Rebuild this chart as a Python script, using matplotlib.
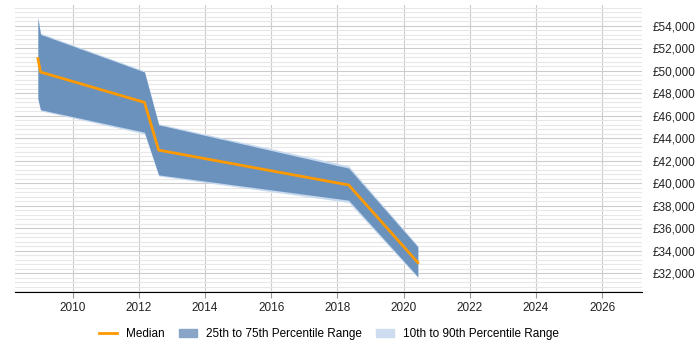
import matplotlib.pyplot as plt
from matplotlib.ticker import MultipleLocator, FuncFormatter
from matplotlib.patches import Patch
from matplotlib.lines import Line2D

plt.rcParams['font.family'] = ['Liberation Sans', 'DejaVu Sans']

# data
years = [2008.95, 2009.03, 2012.17, 2012.6, 2018.34, 2020.43]
median = [51100, 49900, 47200, 42950, 39850, 32950]
p25 = [47550, 46550, 44550, 40750, 38500, 31700]
p75 = [54700, 53250, 49900, 45200, 41350, 34350]
p10 = [47450, 46450, 44400, 40650, 38300, 31600]
p90 = [54800, 53350, 50000, 45300, 41550, 34450]

fig = plt.figure(figsize=(7, 3.5), dpi=100)
ax = fig.add_axes([0.021, 0.166, 0.896, 0.82])

ax.fill_between(years, p10, p90, color='#c6d9ee', lw=0, zorder=2)
ax.fill_between(years, p25, p75, color='#6a92bd', lw=0, zorder=3)
ax.plot(years, median, color='#ff9900', lw=2, zorder=4)

ax.set_xlim(2008.25, 2027.2)
ax.set_ylim(30340, 55870)

ax.xaxis.set_major_locator(MultipleLocator(2))
ax.yaxis.set_major_locator(MultipleLocator(2000))
ax.yaxis.set_minor_locator(MultipleLocator(400))
ax.yaxis.set_major_formatter(FuncFormatter(lambda v, p: '£{:,.0f}'.format(v)))
ax.yaxis.tick_right()

ax.grid(axis='x', which='major', color='#cccccc', lw=0.8, zorder=0)
ax.grid(axis='y', which='major', color='#cccccc', lw=0.8, zorder=0)
ax.grid(axis='y', which='minor', color='#e8e8e8', lw=0.8, zorder=0)
ax.set_axisbelow(True)

for s in ['top', 'left', 'right']:
    ax.spines[s].set_visible(False)
ax.spines['bottom'].set_color('black')

ax.tick_params(axis='y', which='both', length=0, labelsize=8.5, pad=8, labelcolor='#222222')
ax.tick_params(axis='x', length=4, color='#999999', labelsize=8.5, labelcolor='#222222')

handles = [
    Line2D([0], [0], color='#ff9900', lw=2),
    Patch(color='#88a5c8'),
    Patch(color='#cddcee'),
]
labels = ['Median', '25th to 75th Percentile Range', '10th to 90th Percentile Range']
fig.legend(handles, labels, loc='center', bbox_to_anchor=(0.47, 0.045), ncol=3,
           frameon=False, fontsize=8.5, handlelength=1.5, columnspacing=1.2)

fig.savefig('out.png', dpi=100)
